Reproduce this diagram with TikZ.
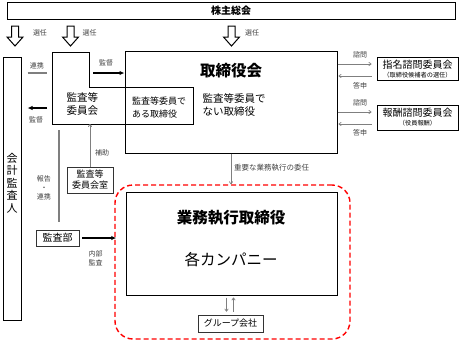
\documentclass[tikz,border=0pt]{standalone}
\usepackage{fontspec}
\setmainfont{Noto Sans CJK JP}
\usepackage{xcolor}
\definecolor{lineGray}{HTML}{7F7F7F}
\definecolor{labelGray}{HTML}{404040}
\definecolor{frameRed}{HTML}{FF0000}
\usetikzlibrary{arrows.meta,positioning}
\newcommand\fsz[2]{\fontsize{#1}{#2}\selectfont}

\begin{document}
\begin{tikzpicture}[x=1pt,y=-1pt,
  box/.style={draw, line width=1pt, inner sep=0pt},
  thinbox/.style={draw=black!80, line width=0.7pt, inner sep=0pt},
  lbl/.style={font=\fsz{7}{9}, text=labelGray, inner sep=0pt, align=center},
  thinarrow/.style={draw=lineGray, line width=0.7pt, -{To[length=3pt,width=4pt]}},
  boldarrow/.style={line width=1.4pt, -{Latex[length=5pt,width=4.5pt]}},
  grayband/.style={draw=lineGray, line width=2.4pt},
  blockarrow/.style={draw, line width=1pt, fill=white}]
  \useasboundingbox (0,0) rectangle (464,341);

  % shareholders
  \node[box, minimum width=448pt, minimum height=17pt, font=\bfseries\fsz{10}{12}] (kabunushi) at (231,10.5) {株主総会};
  \draw[blockarrow] (11.5,26) -- (18.5,26) -- (18.5,37) -- (23,37) -- (15,46) -- (7,37) -- (11.5,37) -- cycle;
  \node[lbl] (senninA) at (40,33) {選任};
  \draw[blockarrow] (67,26) -- (74,26) -- (74,37) -- (78.5,37) -- (70.5,46) -- (62.5,37) -- (67,37) -- cycle;
  \node[lbl] (senninB) at (89.5,33) {選任};
  \draw[blockarrow] (228,26) -- (235,26) -- (235,37) -- (239.5,37) -- (231.5,46) -- (223.5,37) -- (228,37) -- cycle;
  \node[lbl] (senninC) at (252,33) {選任};

  % auditor
  \node[box, minimum width=18pt, minimum height=263pt] (kansanin) at (12,188.5) {};
  \node[font=\fsz{11}{12.5}, align=center] (kansaninText) at (12,183) {会\\計\\監\\査\\人};

  % board
  \node[box, minimum width=212pt, minimum height=102pt] (torishimari) at (231,102) {};
  \node[font=\bfseries\fsz{15.5}{17}] (torishimariTitle) at (231,71) {取締役会};
  \node[anchor=west, align=left, font=\fsz{10.5}{13}] (hiIin) at (199,104.5) {監査等委員で\\ない取締役};
  \node[align=left, font=\fsz{9}{13}] (iinTori) at (159,107.5) {監査等委員で\\ある取締役};

  % audit committee
  \draw[line width=1pt] (52,52) -- (89,52) -- (89,87) -- (193,87) -- (193,124) -- (52,124) -- cycle;
  \node[anchor=west, align=left, font=\fsz{10.5}{13}] (kansaIinkai) at (63,103.5) {監査等\\委員会};
  \coordinate (kansaTop) at (93,73);
  \coordinate (kansaLeft) at (47,108);
  \coordinate (kansaBottom) at (88,124);
  \draw[boldarrow] (kansaTop) -- (torishimari.west |- kansaTop);
  \node[lbl] (kantokuA) at (106,63) {監督};
  \draw[boldarrow] (kansaLeft) -- ([xshift=6pt]kansanin.east |- kansaLeft);
  \node[lbl] (kantokuB) at (36,120) {監督};
  \coordinate (renkeiR) at (47,73);
  \draw[grayband] ([xshift=6pt]kansanin.east |- renkeiR) -- (renkeiR);
  \node[lbl] (renkeiA) at (37,66) {連携};

  % advisory committees
  \node[box, minimum width=81pt, minimum height=23pt] (shimei) at (417.5,68.5) {};
  \node[font=\fsz{10}{12}] (shimeiText) at (417.5,65) {指名諮問委員会};
  \node[font=\fsz{6.2}{7}] (shimeiSub) at (417.5,75) {（取締役候補者の選任）};
  \node[box, minimum width=81pt, minimum height=25pt] (hoshu) at (417.5,117.5) {};
  \node[font=\fsz{10}{12}] (hoshuText) at (417.5,113) {報酬諮問委員会};
  \node[font=\fsz{6.2}{7}] (hoshuSub) at (417.5,123.5) {（役員報酬）};
  \draw[thinarrow] (torishimari.east |- 0,64) -- ([xshift=-5pt]shimei.west |- 0,64);
  \draw[thinarrow] ([xshift=-5pt]shimei.west |- 0,76) -- ([xshift=1pt]torishimari.east |- 0,76);
  \node[lbl] (shimonA) at (360,55) {諮問};
  \node[lbl] (toshinA) at (360,86) {答申};
  \draw[thinarrow] (torishimari.east |- 0,112) -- ([xshift=-5pt]hoshu.west |- 0,112);
  \draw[thinarrow] ([xshift=-5pt]hoshu.west |- 0,124) -- ([xshift=1pt]torishimari.east |- 0,124);
  \node[lbl] (shimonB) at (360,103) {諮問};
  \node[lbl] (toshinB) at (360,133) {答申};

  % support and audit department
  \node[thinbox, minimum width=46pt, minimum height=26pt, align=center, font=\fsz{9}{11}] (shitsu) at (90,180) {監査等\\委員会室};
  \draw[thinarrow] (shitsu.north) -- (shitsu.north |- kansaBottom);
  \node[lbl] (hojo) at (102,153) {補助};
  \coordinate (hokokuTop) at (59,130);
  \coordinate (hokokuBottom) at (59,222);
  \draw[grayband] (hokokuTop) -- (hokokuBottom);
  \node[lbl] (hokoku) at (44,188) {報告\\・\\連携};
  \node[thinbox, minimum width=43pt, minimum height=16pt, font=\fsz{10}{12}] (kansabu) at (57.5,238) {監査部};

  % execution
  \node[draw=frameRed, line width=1.4pt, dash pattern=on 5pt off 3pt, rounded corners=18pt, minimum width=235pt, minimum height=154pt] (gyomuFrame) at (232.5,262) {};
  \node[box, minimum width=211pt, minimum height=103pt] (gyomu) at (231.5,243.5) {};
  \node[font=\bfseries\fsz{15.5}{17}] (gyomuTitle) at (231,218) {業務執行取締役};
  \node[font=\fsz{15.5}{17}] (company) at (231,260) {各カンパニー};
  \draw[boldarrow] ([xshift=3pt]kansabu.east) -- ([xshift=2pt]gyomuFrame.west |- kansabu.east);
  \node[lbl] (naibu) at (95.5,258.5) {内部\\監査};
  \draw[thinarrow] (torishimari.south) -- (torishimari.south |- gyomuFrame.north);
  \node[lbl, anchor=west, font=\fsz{7.5}{9}] (inin) at (234,168) {重要な業務執行の委任};

  % group companies
  \node[thinbox, minimum width=65pt, minimum height=17pt, font=\fsz{9}{11}] (group) at (230.5,323.5) {グループ会社};
  \draw[thinarrow, shorten <=2pt, shorten >=3pt] ([xshift=-5pt]gyomu.south) -- ([xshift=-5pt]gyomu.south |- group.north);
  \draw[thinarrow, shorten <=3pt, shorten >=2pt] ([xshift=2pt]gyomu.south |- group.north) -- ([xshift=2pt]gyomu.south);
\end{tikzpicture}
\end{document}
